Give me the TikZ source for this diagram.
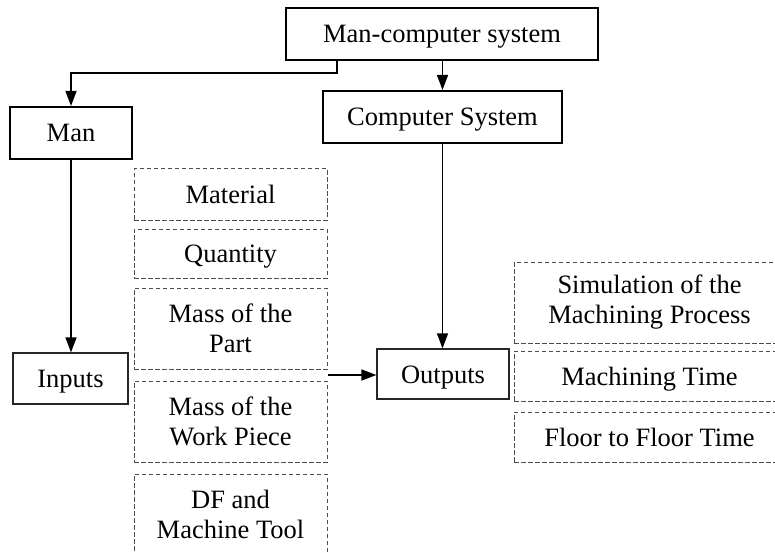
\documentclass[tikz,border=0pt]{standalone}
\usepackage{fontspec}
\setmainfont{Liberation Serif}
\usetikzlibrary{arrows.meta,calc}
\begin{document}
\begin{tikzpicture}[x=1pt,y=-1pt,
  every node/.style={font=\fontsize{26.5}{30}\selectfont, align=center, inner sep=0pt, text=black},
  oneline/.style={text height=18pt, text depth=0pt},
  thickbox/.style={draw=black, line width=2pt, rectangle, oneline},
  thinbox/.style={draw=black!85, line width=1.2pt, rectangle, oneline},
  dbox/.style={draw=black!70, line width=1pt, dash pattern=on 4.5pt off 2.5pt, rectangle},
  conn/.style={draw=black, line width=1.3pt, -{Triangle[length=15pt,width=11pt]}}]
\clip (0,0) rectangle (775,553);
\fill[white] (0,0) rectangle (775,553);
% main boxes
\node[thickbox, minimum width=312pt, minimum height=52pt] (mc) at (442,34) {Man-computer system};
\node[thickbox, minimum width=122pt, minimum height=52pt] (man) at (71,133) {Man};
\node[thickbox, minimum width=239pt, minimum height=52pt] (cs) at (442.5,117) {Computer System};
\node[thinbox, minimum width=115pt, minimum height=51pt] (inputs) at (70.5,378.5) {Inputs};
\node[thinbox, minimum width=132pt, minimum height=50pt] (outputs) at (443,374) {Outputs};
% input items
\node[dbox, oneline, minimum width=193pt, minimum height=51pt] (material) at (230.5,194.5) {Material};
\node[dbox, oneline, minimum width=193pt, minimum height=49pt] (quantity) at (230.5,253.5) {Quantity};
\node[dbox, minimum width=193pt, minimum height=81pt] (masspart) at (230.5,328.5) {Mass of the\\Part};
\node[dbox, minimum width=193pt, minimum height=81pt] (masswp) at (230.5,421.5) {Mass of the\\Work Piece};
\node[dbox, minimum width=193pt, minimum height=81pt] (df) at (230.5,514.5) {DF and\\Machine Tool};
% output items
\node[dbox, minimum width=271pt, minimum height=81pt] (sim) at (649.5,302.5) {Simulation of the\\Machining Process};
\node[dbox, oneline, minimum width=271pt, minimum height=50pt] (mtime) at (649.5,376) {Machining Time};
\node[dbox, oneline, minimum width=271pt, minimum height=50pt] (floor) at (649.5,437) {Floor to Floor Time};
% connectors
\coordinate (mcl) at (337,60);
\coordinate (bend) at (337,73);
\draw[conn] (mcl) -- (bend) -- (bend -| man.north) -- (man.north);
\draw[conn] (cs.north |- mc.south) -- (cs.north);
\draw[conn] (man.south) -- (man.south |- inputs.north);
\draw[conn] (cs.south) -- (cs.south |- outputs.north);
\coordinate (inEnd) at ($(masspart.south east)!0.5!(masswp.north east)$);
\draw[conn] (inEnd) -- (inEnd -| outputs.west);
\end{tikzpicture}
\end{document}
